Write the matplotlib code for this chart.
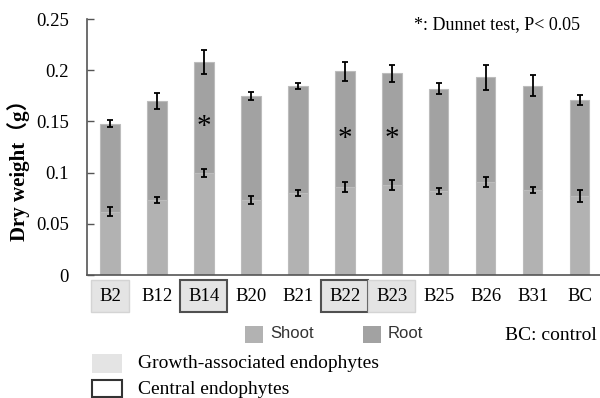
import matplotlib
matplotlib.use("Agg")
import matplotlib.pyplot as plt
from matplotlib.patches import Rectangle

# dry weight per strain (g), shoot stacked under root
strains = ['B2', 'B12', 'B14', 'B20', 'B21', 'B22', 'B23', 'B25', 'B26', 'B31', 'BC']
shoot = [0.062, 0.073, 0.100, 0.073, 0.080, 0.086, 0.088, 0.082, 0.091, 0.083, 0.077]
shoot_err = [0.004, 0.003, 0.004, 0.004, 0.003, 0.005, 0.0045, 0.003, 0.005, 0.003, 0.006]
root = [0.086, 0.097, 0.108, 0.102, 0.105, 0.113, 0.109, 0.100, 0.102, 0.102, 0.094]
total_err = [0.003, 0.008, 0.012, 0.004, 0.003, 0.009, 0.0085, 0.0055, 0.012, 0.010, 0.005]
significant = ['B14', 'B22', 'B23']
growth_assoc = ['B2', 'B23']
central = ['B14', 'B22']
yticks = [0, 0.05, 0.1, 0.15, 0.2, 0.25]
ytick_labels = ['0', '0.05', '0.1', '0.15', '0.2', '0.25']

serif = 'Liberation Serif'
shoot_col = '#b2b2b2'
root_col = '#a2a2a2'

fig = plt.figure(figsize=(6, 3.98), dpi=100)
ax = fig.add_axes([0.145, 0.309, 0.855, 0.643])

x = list(range(len(strains)))
total = [s + r for s, r in zip(shoot, root)]
ax.bar(x, shoot, width=0.41, color=shoot_col, edgecolor='#bcbcbc', linewidth=0.8)
ax.bar(x, root, width=0.41, bottom=shoot, color=root_col, edgecolor='#bcbcbc', linewidth=0.8)
ax.errorbar(x, shoot, yerr=shoot_err, fmt='none', ecolor='black', elinewidth=1.3, capsize=2.5, capthick=1.3)
ax.errorbar(x, total, yerr=total_err, fmt='none', ecolor='black', elinewidth=1.3, capsize=2.5, capthick=1.3)

# significance stars in the middle of the root segment
for i, name in enumerate(strains):
    if name in significant:
        ax.annotate('*', (i, (shoot[i] + total[i]) / 2), xytext=(0, -7), textcoords='offset points',
                    ha='center', va='center', fontsize=21, family=serif)

ax.set_xlim(-0.49, 10.43)
ax.set_ylim(0, 0.25)
ax.set_yticks(yticks)
ax.set_yticklabels(ytick_labels, family=serif, fontsize=13.5)
ax.set_xticks(x)
ax.set_xticklabels(strains, family=serif, fontsize=13.5)
ax.tick_params(axis='y', direction='in', length=5, width=1, color='#555555', pad=13)
ax.tick_params(axis='x', length=0, pad=9)
for side in ['top', 'right']:
    ax.spines[side].set_visible(False)
for side in ['left', 'bottom']:
    ax.spines[side].set_color('#555555')
    ax.spines[side].set_linewidth(1.2)

# boxes around the grouped strain labels
for lab in ax.get_xticklabels():
    name = lab.get_text()
    if name in growth_assoc:
        lab.set_bbox(dict(boxstyle='square,pad=0.42', facecolor='#e4e4e4', edgecolor='#d4d4d4', linewidth=1))
    elif name in central:
        lab.set_bbox(dict(boxstyle='square,pad=0.42', facecolor='#e4e4e4', edgecolor='#505050', linewidth=1.5))

ax.set_ylabel('Dry weight（g）', family=[serif, 'Noto Sans CJK JP'], fontweight='bold', fontsize=15)
ax.yaxis.set_label_coords(-0.111, 0.43)

ax.text(0.961, 0.977, '*: Dunnet test, P< 0.05', transform=ax.transAxes, ha='right', va='center',
        family=serif, fontsize=13)

# legend drawn in figure pixels
W, H = 600, 398
def box(x0, y0, w, h, fc, ec, lw):
    fig.patches.append(Rectangle((x0 / W, 1 - (y0 + h) / H), w / W, h / H, transform=fig.transFigure,
                                 facecolor=fc, edgecolor=ec, linewidth=lw))

box(245, 326, 18, 17, shoot_col, 'none', 0)
fig.text(270 / W, 1 - 334 / H, 'Shoot', va='center', fontsize=12, family='Liberation Sans', color='#333333')
box(363, 326, 18, 17, root_col, 'none', 0)
fig.text(388 / W, 1 - 334 / H, 'Root', va='center', fontsize=12, family='Liberation Sans', color='#333333')
fig.text(597 / W, 1 - 336 / H, 'BC: control', va='center', ha='right', fontsize=14, family=serif)

box(92, 354, 30, 19, '#e4e4e4', 'none', 0)
fig.text(138 / W, 1 - 364 / H, 'Growth-associated endophytes', va='center', fontsize=14, family=serif)
box(92, 380, 30, 17, 'white', '#333333', 1.5)
fig.text(138 / W, 1 - 389 / H, 'Central endophytes', va='center', fontsize=14, family=serif)

fig.savefig('out.png', dpi=100)
